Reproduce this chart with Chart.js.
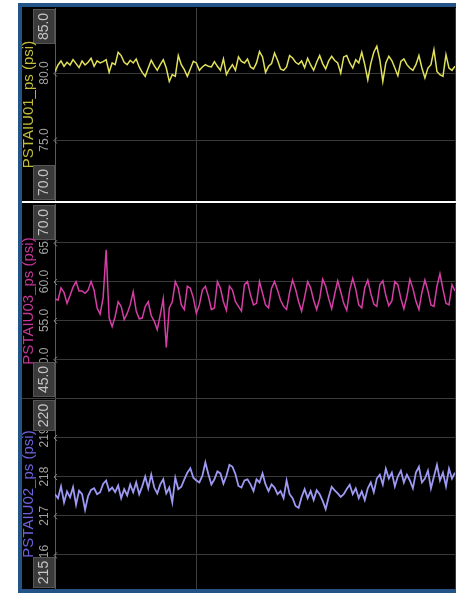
<!DOCTYPE html>
<html>
<head>
<meta charset="utf-8">
<script src="https://cdn.jsdelivr.net/npm/chart.js@4.4.1/dist/chart.umd.min.js"></script>
<style>
  html, body { margin: 0; padding: 0; background: #fff; }
  body { width: 456px; height: 593px; position: relative; overflow: hidden; }
  #frame { position: absolute; left: 18px; top: 3px; width: 438px; height: 590px; background: #245487; }
  #inner { position: absolute; left: 22px; top: 7px; width: 434px; height: 582px; background: #000; }
  canvas { position: absolute; left: 22px; }
  .sep { position: absolute; left: 22px; width: 434px; }
</style>
</head>
<body>
<div id="frame"></div>
<div id="inner"></div>
<canvas id="c1" width="434" height="193" style="top:8px"></canvas>
<div class="sep" style="top:201px;height:2px;background:#fff"></div>
<canvas id="c2" width="434" height="194" style="top:204px"></canvas>
<div class="sep" style="top:398px;height:1px;background:#3c3c3c"></div>
<canvas id="c3" width="434" height="190" style="top:399px"></canvas>
<script>
// samples are evenly spaced across the time axis
var psiU01 = [
  80.1, 80.6, 80.9, 80.5, 80.8, 80.6, 81.0, 80.7, 80.4, 80.9, 80.6, 80.8, 81.1, 80.5, 80.9,
  80.75, 80.85, 80.99, 80.05, 80.75, 80.62, 81.55, 81.3, 80.8, 80.62, 80.95, 80.75, 81.05, 80.45,
  80.05, 79.75, 80.37, 80.95, 80.55, 80.2, 80.62, 80.99, 80.37, 79.37, 79.88, 79.75, 81.3, 80.62,
  80.25, 79.75, 80.3, 80.87, 80.75, 80.2, 80.45, 80.62, 80.5, 80.45, 80.85, 80.5, 80.2, 81.05,
  79.88, 80.3, 80.62, 80.2, 81.2, 80.87, 80.75, 81.05, 80.45, 80.3, 80.75, 81.6, 81.2, 80.05,
  80.5, 80.7, 81.49, 80.95, 80.3, 80.2, 80.45, 81.3, 81.12, 80.8, 80.65,
  80.9, 80.4, 81.1, 80.6, 80.2, 80.8, 81.3, 80.7, 80.3, 80.9,
  81.25, 80.93, 80.75, 80.0, 81.2, 81.3, 80.75, 80.37, 80.99, 80.75, 81.55, 80.62, 79.5, 80.7,
  81.55, 82.0, 80.99, 79.37, 80.75, 81.25, 80.93, 80.37, 79.8, 80.87, 81.05, 80.62, 80.37, 80.2,
  80.62, 81.3, 80.37, 79.63, 80.37, 80.62, 81.74, 80.12, 79.87, 79.75, 81.37, 80.37, 80.2, 80.5
];
var psiU03 = [
  57.8, 57.6, 59.2, 58.6, 57.2, 58.2, 59.3, 60.0, 58.8,
  58.8, 58.5, 58.9, 60.0, 58.9, 56.6, 55.8, 57.9, 64.1, 55.3, 54.2, 55.5, 57.4, 56.8, 55.1, 55.9,
  57.0, 58.7, 56.2, 55.2, 55.3, 56.8, 57.4, 55.6, 54.9, 53.8, 55.7, 57.8, 51.5, 56.6, 57.4, 60.0,
  59.15, 57.0, 56.4, 59.4, 59.15, 57.9, 55.9, 57.0, 58.9, 59.4, 58.1, 56.4, 56.6, 60.0, 59.15,
  57.4, 56.3, 59.4, 58.9, 57.4, 56.8, 56.2, 59.6, 60.0, 58.3, 57.0, 57.2, 60.0, 58.5, 57.0, 56.6,
  59.15, 60.0, 58.9, 57.6,
  56.8, 56.4, 58.6, 60.2, 59.0, 57.4, 56.2, 58.0, 60.0, 59.2, 57.6, 56.4, 57.8, 60.3, 59.4, 57.8,
  56.5, 58.4, 60.1, 58.7, 57.2, 56.3, 58.9, 60.4, 59.0, 57.0, 56.6, 59.2, 60.2, 58.5, 57.1, 56.8,
  59.6, 60.1, 58.2, 56.9, 57.5, 60.0, 59.6, 57.8, 56.5, 58.1, 60.3, 59.1, 57.5, 56.4, 58.6, 60.2,
  58.8, 57.0, 56.8, 59.4, 61.0, 59.0, 57.2, 57.0, 59.6, 58.8
];
var psiU02 = [
  217.55, 217.45, 217.75, 217.34, 217.62, 217.47, 217.73, 217.28, 217.64, 217.55, 217.15, 217.5,
  217.66, 217.7, 217.55, 217.6, 217.81, 217.9, 217.64, 217.72, 217.6, 217.77,
  217.45, 217.68, 217.52, 217.8, 217.6, 217.85, 217.55, 217.75, 218.0, 217.7,
  218.05, 217.72, 217.57, 217.8, 217.93, 217.57, 217.72, 217.34, 217.97, 217.68, 217.74, 217.93,
  218.1, 218.21, 217.97, 217.9, 217.85, 218.02, 218.36, 218.06, 217.8, 217.93, 218.13, 218.08,
  217.82, 218.02, 218.3, 218.25, 218.06, 217.76, 217.72, 217.9, 217.93, 217.8, 217.63, 217.93,
  217.85, 218.08, 217.8, 217.63, 217.8, 217.72, 217.55, 217.63, 217.45, 217.9, 217.55, 217.45,
  217.25, 217.2, 217.48, 217.68, 217.45, 217.63, 217.4, 217.65, 217.55, 217.38, 217.17, 217.48,
  217.74, 217.65, 217.57, 217.48, 217.55, 217.68, 217.79,
  217.55, 217.7, 217.45, 217.62, 217.4, 217.7, 217.85, 217.6, 217.95, 218.05, 217.8, 218.2,
  217.95, 218.1, 217.75, 218.0, 218.15, 217.85, 218.05, 217.9, 217.7, 218.1, 218.25, 217.85,
  217.95, 218.15, 217.7, 218.0, 218.3, 217.9, 218.1, 217.75, 218.2, 217.95, 218.1
];

var ticksU01 = [80, 75];
var ticksU03 = [65, 60, 55, 50];
var ticksU02 = [219, 218, 217, 216];
var endsU01 = ['85.0', '70.0'];
var endsU03 = ['70.0', '45.0'];
var endsU02 = ['220', '215'];
var cursorAt = [47];

var FONT = '"Liberation Sans", Arial, sans-serif';

function buildPanel(id, series, o) {
  var decor = {
    id: 'decor',
    afterDraw: function(chart) {
      var ctx = chart.ctx, a = chart.chartArea, y = chart.scales.y;
      ctx.save();
      ctx.strokeStyle = '#3a3a3a';
      ctx.lineWidth = 1;
      ctx.beginPath();
      ctx.moveTo(a.right + 0.5, a.top);
      ctx.lineTo(a.right + 0.5, a.bottom);
      ctx.stroke();

      ctx.textAlign = 'center';
      ctx.textBaseline = 'middle';
      ctx.font = '12px ' + FONT;
      o.ticks.forEach(function(v) {
        var py = y.getPixelForValue(v);
        ctx.fillStyle = '#a0a0a0';
        ctx.save();
        ctx.translate(22.5, py);
        ctx.rotate(-Math.PI / 2);
        ctx.fillText(v.toFixed(o.decimals), 0, 0);
        ctx.restore();
        ctx.strokeStyle = '#8c8c8c';
        ctx.beginPath();
        ctx.moveTo(35, py - 2.5);
        ctx.lineTo(32, py + 0.5);
        ctx.lineTo(35, py + 3.5);
        ctx.stroke();
      });

      ctx.font = '14px ' + FONT;
      [[o.ends[0], a.top + 1, 1], [o.ends[1], a.bottom - 1, -1]].forEach(function(e) {
        var h = Math.round(ctx.measureText(e[0]).width + 8);
        var y0 = e[2] > 0 ? e[1] : e[1] - h;
        ctx.fillStyle = '#3a3a3a';
        ctx.fillRect(11, y0, 22, h);
        ctx.strokeStyle = '#555';
        ctx.strokeRect(11.5, y0 + 0.5, 21, h - 1);
        ctx.fillStyle = '#c4c4c4';
        ctx.save();
        ctx.translate(22, y0 + h / 2);
        ctx.rotate(-Math.PI / 2);
        ctx.fillText(e[0], 0, 0);
        ctx.restore();
      });

      ctx.font = '15px ' + FONT;
      ctx.textBaseline = 'alphabetic';
      ctx.fillStyle = o.titleColor;
      ctx.save();
      ctx.translate(11, (a.top + a.bottom) / 2);
      ctx.rotate(-Math.PI / 2);
      ctx.fillText(o.title, 0, 0);
      ctx.restore();
      ctx.restore();
    }
  };

  return new Chart(document.getElementById(id), {
    type: 'line',
    data: {
      datasets: [{
        data: series.map(function(v, i) { return {x: i, y: v}; }),
        borderColor: o.color,
        borderWidth: o.width,
        pointRadius: 0,
        tension: 0,
        fill: false
      }]
    },
    options: {
      responsive: false,
      animation: false,
      events: [],
      layout: {padding: {left: 0, right: 1, top: 0, bottom: 0}},
      plugins: {legend: {display: false}, tooltip: {enabled: false}},
      scales: {
        x: {
          type: 'linear', min: 0, max: series.length - 1,
          ticks: {display: false},
          grid: {color: '#3c3c3c', drawTicks: false},
          border: {display: false},
          afterBuildTicks: function(s) { s.ticks = cursorAt.map(function(v) { return {value: v}; }); },
          afterFit: function(s) { s.height = 0; }
        },
        y: {
          min: o.min, max: o.max,
          ticks: {display: false},
          grid: {color: '#3a3a3a', drawTicks: false},
          border: {color: '#5a5a5a'},
          afterBuildTicks: function(s) { s.ticks = o.ticks.map(function(v) { return {value: v}; }); },
          afterFit: function(s) { s.width = 33; }
        }
      }
    },
    plugins: [decor]
  });
}

buildPanel('c1', psiU01, {
  color: '#e2e25a', width: 1.5, titleColor: '#c2bd3c', title: 'PSTAIU01_ps (psi)',
  min: 70.45, max: 84.85, ticks: ticksU01, ends: endsU01, decimals: 1
});
buildPanel('c2', psiU03, {
  color: '#d63ea6', width: 1.5, titleColor: '#c4369a', title: 'PSTAIU03_ps (psi)',
  min: 45, max: 70, ticks: ticksU03, ends: endsU03, decimals: 1
});
buildPanel('c3', psiU02, {
  color: '#9d99f4', width: 1.8, titleColor: '#6c62dc', title: 'PSTAIU02_ps (psi)',
  min: 215.13, max: 219.98, ticks: ticksU02, ends: endsU02, decimals: 0
});
</script>
</body>
</html>
